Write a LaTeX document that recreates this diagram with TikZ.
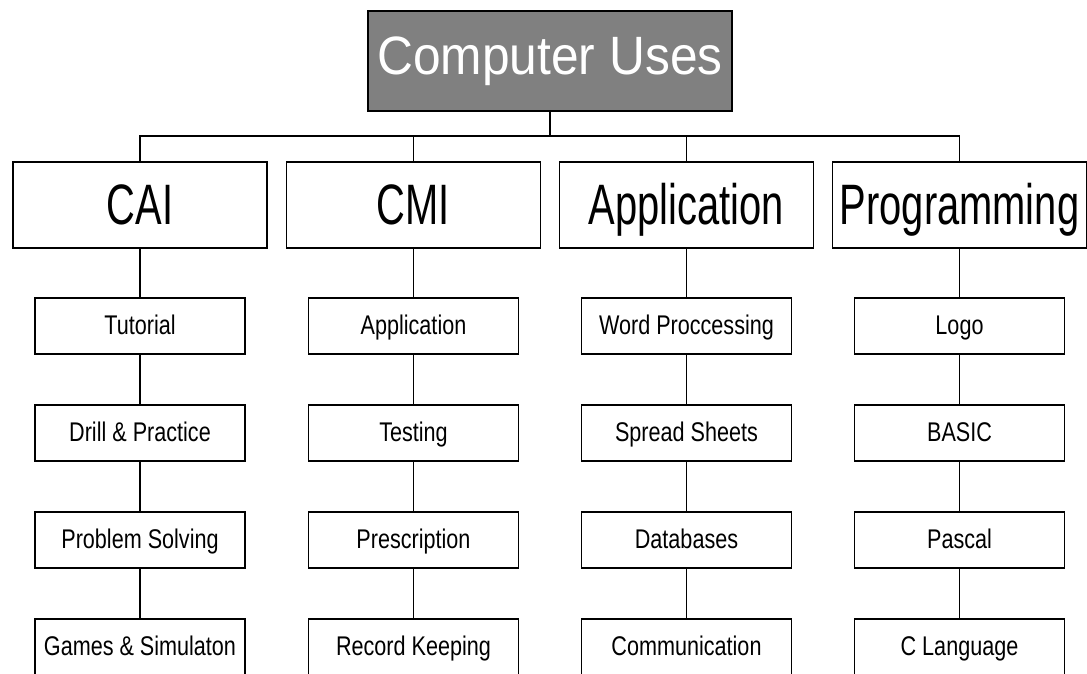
\documentclass[tikz,border=0pt]{standalone}
\usepackage{fontspec}
\newfontfamily\rootfont[FakeStretch=0.92]{Liberation Sans}
\newfontfamily\catfont[FakeStretch=0.70]{Liberation Sans}
\newfontfamily\leaffont[FakeStretch=0.80]{Liberation Sans}
\definecolor{rootgray}{HTML}{808080}
\begin{document}
\begin{tikzpicture}[x=1pt,y=-1pt,
  box/.style={draw=black,line width=1.4pt,rectangle,inner sep=0pt,align=center},
  rootbox/.style={box,fill=rootgray,text=white,minimum width=364pt,minimum height=100pt,
    font=\rootfont\fontsize{54}{58}\selectfont,text height=39pt,text depth=12pt},
  catbox/.style={box,fill=white,minimum width=254pt,minimum height=86pt,
    font=\catfont\fontsize{57}{60}\selectfont,text height=41pt,text depth=3pt},
  leafbox/.style={box,fill=white,minimum width=210pt,minimum height=56pt,
    font=\leaffont\fontsize{27}{30}\selectfont,text height=19.5pt,text depth=2pt},
  link/.style={draw=black,line width=1.4pt}]
\useasboundingbox (0,0) rectangle (1087,673);
\fill[white] (0,0) rectangle (1087,673);

\node[rootbox] (root) at (550,61) {Computer Uses};
\coordinate (bus) at (550,136);

\node[catbox] (cai)  at (140,205) {CAI};
\node[catbox] (cmi)  at (413.5,205) {CMI};
\node[catbox] (app)  at (686.5,205) {Application};
\node[catbox] (prog) at (959.5,205) {Programming};

% CAI column
\node[leafbox] (a1) at (140,326) {Tutorial};
\node[leafbox] (a2) at (140,433) {Drill \& Practice};
\node[leafbox] (a3) at (140,540) {Problem Solving};
\node[leafbox] (a4) at (140,647) {Games \& Simulaton};
% CMI column
\node[leafbox] (b1) at (413.5,326) {Application};
\node[leafbox] (b2) at (413.5,433) {Testing};
\node[leafbox] (b3) at (413.5,540) {Prescription};
\node[leafbox] (b4) at (413.5,647) {Record Keeping};
% Application column
\node[leafbox] (c1) at (686.5,326) {Word Proccessing};
\node[leafbox] (c2) at (686.5,433) {Spread Sheets};
\node[leafbox] (c3) at (686.5,540) {Databases};
\node[leafbox] (c4) at (686.5,647) {Communication};
% Programming column
\node[leafbox] (d1) at (959.5,326) {Logo};
\node[leafbox] (d2) at (959.5,433) {BASIC};
\node[leafbox] (d3) at (959.5,540) {Pascal};
\node[leafbox] (d4) at (959.5,647) {C Language};

% tree connectors
\draw[link] (root.south) -- (bus);
\draw[link] (cai.north) -- (cai.north |- bus) -- (prog.north |- bus) -- (prog.north);
\draw[link] (cmi.north) -- (cmi.north |- bus);
\draw[link] (app.north) -- (app.north |- bus);

\foreach \p/\c in {cai/a,cmi/b,app/c,prog/d}{
  \draw[link] (\p.south) -- (\c1.north);
  \draw[link] (\c1.south) -- (\c2.north);
  \draw[link] (\c2.south) -- (\c3.north);
  \draw[link] (\c3.south) -- (\c4.north);
}
\end{tikzpicture}
\end{document}
